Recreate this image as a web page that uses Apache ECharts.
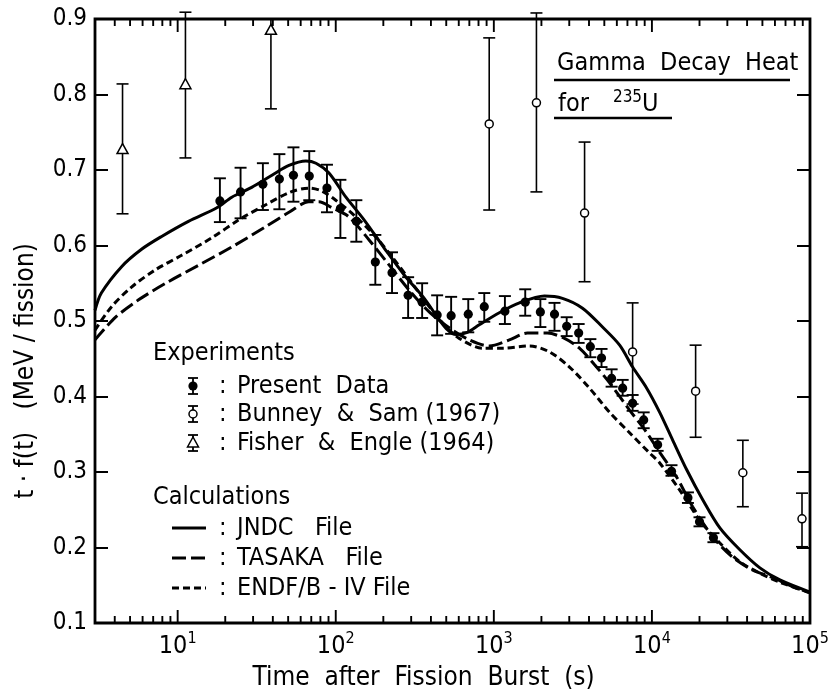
<!DOCTYPE html>
<html>
<head>
<meta charset="utf-8">
<title>Gamma Decay Heat for 235U</title>
<script src="https://cdn.jsdelivr.net/npm/echarts@6/dist/echarts.min.js"></script>
<style>
  html, body { margin: 0; padding: 0; background: #fff; }
  #chart { width: 829px; height: 691px; }
</style>
</head>
<body>
<div id="chart"></div>
<script>
(function () {
    'use strict';

    var FONT = "'DejaVu Sans Condensed', 'DejaVu Sans', sans-serif";

    //////////DATA
    // [time (s), value, err low, err high]
    var presentData = [
        [18.5, 0.659, 0.631, 0.689], [25, 0.671, 0.636, 0.703], [34.6, 0.681, 0.647, 0.709],
        [44, 0.688, 0.648, 0.721], [54, 0.693, 0.658, 0.730], [68, 0.692, 0.660, 0.725],
        [88, 0.676, 0.644, 0.707], [107, 0.649, 0.610, 0.687], [135, 0.632, 0.605, 0.660],
        [178, 0.578, 0.548, 0.614], [227, 0.564, 0.537, 0.591], [287, 0.534, 0.504, 0.558],
        [352, 0.525, 0.504, 0.550], [438, 0.508, 0.481, 0.534], [537, 0.507, 0.483, 0.532],
        [689, 0.509, 0.485, 0.529], [870, 0.519, 0.499, 0.537], [1175, 0.513, 0.496, 0.533],
        [1580, 0.525, 0.507, 0.542], [1970, 0.512, 0.492, 0.529], [2420, 0.509, 0.487, 0.524],
        [2890, 0.493, 0.480, 0.505], [3440, 0.484, 0.471, 0.496], [4080, 0.466, 0.452, 0.476],
        [4800, 0.451, 0.439, 0.463], [5560, 0.424, 0.413, 0.436], [6530, 0.411, 0.401, 0.422],
        [7550, 0.391, 0.381, 0.402], [8870, 0.369, 0.358, 0.379], [10870, 0.336, 0.328, 0.344],
        [13300, 0.301, 0.295, 0.309], [16900, 0.266, 0.259, 0.273], [20000, 0.234, 0.228, 0.240],
        [24500, 0.213, 0.207, 0.219]
    ];
    var bunneySam = [
        [935, 0.761, 0.647, 0.875], [1860, 0.789, 0.671, 0.908], [3750, 0.643, 0.552, 0.737],
        [7550, 0.459, 0.390, 0.524], [18900, 0.407, 0.346, 0.468], [37600, 0.299, 0.254, 0.342],
        [89000, 0.238, 0.201, 0.272]
    ];
    var fisherEngle = [
        [4.48, 0.727, 0.642, 0.814], [11.2, 0.813, 0.716, 0.909], [38.9, 0.885, 0.781, 0.99]
    ];

    // calculations [time (s), value]
    var jndc = [
        [3, 0.514], [3.29, 0.537], [4.42, 0.572], [5.91, 0.595], [7.92, 0.612], [11.7, 0.632],
        [17.7, 0.650], [22, 0.664], [29.4, 0.677], [39.5, 0.693], [50.6, 0.706], [64.8, 0.712],
        [75, 0.709], [90.6, 0.696], [116, 0.664], [151, 0.634], [202, 0.597], [271, 0.561],
        [363, 0.530], [430, 0.508], [500, 0.490], [578, 0.482], [680, 0.485], [809, 0.495],
        [1083, 0.511], [1452, 0.524], [2090, 0.533], [2717, 0.530], [3640, 0.517], [4870, 0.492],
        [6250, 0.468], [7550, 0.439], [9270, 0.411], [11200, 0.379], [13550, 0.342], [16600, 0.303],
        [21000, 0.263], [26900, 0.226], [36000, 0.197], [48200, 0.173], [64500, 0.157], [100000, 0.141]
    ];
    var tasaka = [
        [3, 0.475], [4.05, 0.505], [5.66, 0.528], [8.4, 0.550], [13.6, 0.574], [22, 0.598],
        [36.1, 0.625], [50.6, 0.644], [67.7, 0.658], [78.3, 0.658], [94.6, 0.650], [121, 0.638],
        [163, 0.607], [218, 0.574], [291, 0.541], [390, 0.512], [522, 0.491], [700, 0.475],
        [936, 0.467], [1254, 0.475], [1630, 0.484], [2180, 0.484], [2800, 0.477], [3480, 0.464],
        [4340, 0.442], [5400, 0.418], [7220, 0.382], [9000, 0.356], [11200, 0.326], [14350, 0.293],
        [18100, 0.254], [24300, 0.214], [32500, 0.187], [43500, 0.170], [58200, 0.160],
        [78000, 0.148], [100000, 0.140]
    ];
    var endf = [
        [3, 0.488], [3.82, 0.519], [5.11, 0.545], [7.26, 0.568], [10.6, 0.587], [16.4, 0.610],
        [24.4, 0.634], [36.1, 0.654], [50.6, 0.670], [67.7, 0.676], [81.8, 0.672], [100, 0.660],
        [134, 0.638], [180, 0.611], [227, 0.585], [304, 0.550], [390, 0.519], [500, 0.492],
        [604, 0.477], [845, 0.464], [1133, 0.464], [1680, 0.467], [2250, 0.459], [3010, 0.439],
        [4030, 0.411], [5400, 0.379], [7220, 0.352], [9680, 0.325], [11200, 0.312], [15000, 0.276],
        [20100, 0.236], [26900, 0.206], [36000, 0.181], [48200, 0.166], [64500, 0.154], [100000, 0.140]
    ];

    // axis ticks
    var xDecades = [1, 10, 100, 1000, 10000];
    var xMinorSteps = [2, 3, 4, 5, 6, 7, 8, 9];
    var xMin = 3, xMax = 100000;
    var yMin = 0.1, yMax = 0.9, yStep = 0.1;

    var LONG_DASH = [14, 5];
    var SHORT_DASH = [7, 4];
    //////////DATA

    var tickData = [];
    xDecades.forEach(function (d) {
        if (d > xMin) tickData.push([d, 0.5, 1]);
        xMinorSteps.forEach(function (m) {
            var t = d * m;
            if (t > xMin && t < xMax) tickData.push([t, 0.5, 0]);
        });
    });

    function seg(x1, y1, x2, y2, w) {
        return { type: 'line', shape: { x1: x1, y1: y1, x2: x2, y2: y2 },
                 style: { stroke: '#000', lineWidth: w || 1.8 } };
    }

    function renderTick(params, api) {
        var len = api.value(2) ? 13 : 7;
        var x = api.coord([api.value(0), 0.5])[0];
        var cs = params.coordSys;
        var bottom = cs.y + cs.height;
        return { type: 'group', children: [
            seg(x, bottom, x, bottom - len, 1.9),
            seg(x, cs.y, x, cs.y + len, 1.9)
        ] };
    }

    function marker(kind, x, y) {
        if (kind === 'present') {
            return { type: 'circle', shape: { cx: x, cy: y, r: 4.6 }, style: { fill: '#000' } };
        } else if (kind === 'bunney') {
            return { type: 'circle', shape: { cx: x, cy: y, r: 4 },
                     style: { fill: '#fff', stroke: '#000', lineWidth: 1.5 } };
        }
        return { type: 'polygon', shape: { points: [[x, y - 6], [x - 5.5, y + 4], [x + 5.5, y + 4]] },
                 style: { fill: '#fff', stroke: '#000', lineWidth: 1.5 } };
    }

    function makeErrorRender(kind, lw) {
        return function (params, api) {
            var t = api.value(0);
            var p = api.coord([t, api.value(1)]);
            var lo = api.coord([t, api.value(2)]);
            var hi = api.coord([t, api.value(3)]);
            var cs = params.coordSys;
            var cap = 6;
            var topY = hi[1], topCap = true;
            if (topY < cs.y - 10) { topY = cs.y; topCap = false; }
            var children = [
                seg(p[0], lo[1], p[0], topY, lw),
                seg(p[0] - cap, lo[1], p[0] + cap, lo[1], lw)
            ];
            if (topCap) children.push(seg(p[0] - cap, topY, p[0] + cap, topY, lw));
            children.push(marker(kind, p[0], p[1]));
            return { type: 'group', children: children };
        };
    }

    function lineSeries(name, data, dash) {
        return {
            name: name, type: 'line', data: data, smooth: 0.3, symbol: 'none',
            silent: true, z: 2,
            lineStyle: { color: '#000', width: 3, type: dash, cap: 'butt' }
        };
    }

    ////////////LEGEND + TITLE (graphic)
    function txt(x, y, text, size) {
        return { type: 'text', x: x, y: y,
                 style: { text: text, fontSize: size || 25, fontFamily: FONT, fill: '#000',
                          verticalAlign: 'middle' } };
    }
    function legendGlyph(kind, cx, cy) {
        var h = 8, c = 5;
        return { type: 'group', children: [
            seg(cx, cy - h, cx, cy + h, 1.8),
            seg(cx - c, cy - h, cx + c, cy - h, 1.8),
            seg(cx - c, cy + h, cx + c, cy + h, 1.8),
            marker(kind, cx, cy)
        ] };
    }
    function legendLine(cy, dash) {
        return { type: 'line', shape: { x1: 172, y1: cy, x2: 206, y2: cy },
                 style: { stroke: '#000', lineWidth: 2.8, lineDash: dash } };
    }

    var graphics = [
        txt(153, 353, 'Experiments'),
        legendGlyph('present', 193, 386), txt(219, 386, ':'), txt(237, 386, 'Present  Data'),
        legendGlyph('bunney', 193, 414), txt(219, 414, ':'), txt(237, 414, 'Bunney  &  Sam (1967)'),
        legendGlyph('fisher', 193, 443), txt(219, 443, ':'), txt(237, 443, 'Fisher  &  Engle (1964)'),
        txt(153, 497, 'Calculations'),
        legendLine(528, null), txt(219, 528, ':'), txt(237, 528, 'JNDC   File'),
        legendLine(558, LONG_DASH), txt(219, 558, ':'), txt(237, 558, 'TASAKA   File'),
        legendLine(588, SHORT_DASH), txt(219, 588, ':'), txt(237, 588, 'ENDF/B - IV File'),
        txt(557, 63, 'Gamma  Decay  Heat', 25),
        { type: 'line', shape: { x1: 554, y1: 80, x2: 790, y2: 80 }, style: { stroke: '#000', lineWidth: 2.4 } },
        { type: 'text', x: 558, y: 103,
          style: { text: '{a|for}       {s|235}{a|U}', fontFamily: FONT, fill: '#000', verticalAlign: 'middle',
                   rich: { a: { fontSize: 25, fontFamily: FONT, lineHeight: 28, verticalAlign: 'bottom' },
                           s: { fontSize: 17, fontFamily: FONT, lineHeight: 28, verticalAlign: 'top' } } } },
        { type: 'line', shape: { x1: 554, y1: 118, x2: 672, y2: 118 }, style: { stroke: '#000', lineWidth: 2.4 } }
    ];

    var chart = echarts.init(document.getElementById('chart'), null, { renderer: 'canvas' });

    chart.setOption({
        animation: false,
        backgroundColor: '#fff',
        textStyle: { fontFamily: FONT, color: '#000' },
        grid: { left: 95, right: 19, top: 19, bottom: 68, show: true, outerBoundsMode: 'none',
                containLabel: false,
                borderColor: '#000', borderWidth: 2.8, backgroundColor: 'transparent' },
        xAxis: {
            type: 'log', logBase: 10, min: xMin, max: xMax,
            name: 'Time  after  Fission  Burst  (s)', nameLocation: 'middle', nameGap: 42,
            nameTextStyle: { fontSize: 26, fontFamily: FONT, color: '#000', padding: [0, 58, 0, 0] },
            axisLine: { show: false }, axisTick: { show: false }, splitLine: { show: false },
            minorTick: { show: false }, minorSplitLine: { show: false },
            axisLabel: {
                margin: 8, color: '#000',
                formatter: function (v) {
                    var e = Math.log(v) / Math.LN10;
                    if (Math.abs(e - Math.round(e)) > 1e-6) return '';
                    return '{b|10}{s|' + Math.round(e) + '}';
                },
                rich: {
                    b: { fontSize: 25, fontFamily: FONT, color: '#000', lineHeight: 28, verticalAlign: 'bottom' },
                    s: { fontSize: 16, fontFamily: FONT, color: '#000', lineHeight: 28, verticalAlign: 'top' }
                }
            }
        },
        yAxis: [{
            type: 'value', min: yMin, max: yMax, interval: yStep, position: 'left',
            name: 't · f(t)   (MeV / fission)', nameLocation: 'middle', nameGap: 56, nameRotate: 90,
            nameTextStyle: { fontSize: 26, fontFamily: FONT, color: '#000', padding: [0, 100, 0, 0] },
            axisLine: { show: false }, splitLine: { show: false },
            axisTick: { show: true, inside: true, length: 13, lineStyle: { color: '#000', width: 2 } },
            axisLabel: { fontSize: 24, fontFamily: FONT, color: '#000', margin: 8,
                         formatter: function (v) { return v.toFixed(1); } }
        }, {
            type: 'value', min: yMin, max: yMax, interval: yStep, position: 'right',
            axisLine: { show: false }, splitLine: { show: false }, axisLabel: { show: false },
            axisTick: { show: true, inside: true, length: 13, lineStyle: { color: '#000', width: 2 } }
        }],
        series: [
            { type: 'custom', name: 'ticks', data: tickData, renderItem: renderTick, silent: true, z: 1 },
            lineSeries('JNDC File', jndc, 'solid'),
            lineSeries('TASAKA File', tasaka, LONG_DASH),
            lineSeries('ENDF/B-IV File', endf, SHORT_DASH),
            { type: 'custom', name: 'Present Data', data: presentData,
              renderItem: makeErrorRender('present', 1.9), encode: { x: 0, y: 1 }, z: 5 },
            { type: 'custom', name: 'Bunney & Sam (1967)', data: bunneySam,
              renderItem: makeErrorRender('bunney', 1.6), encode: { x: 0, y: 1 }, z: 5 },
            { type: 'custom', name: 'Fisher & Engle (1964)', data: fisherEngle,
              renderItem: makeErrorRender('fisher', 1.6), encode: { x: 0, y: 1 }, z: 5 }
        ],
        graphic: graphics
    });
})();
</script>
</body>
</html>
